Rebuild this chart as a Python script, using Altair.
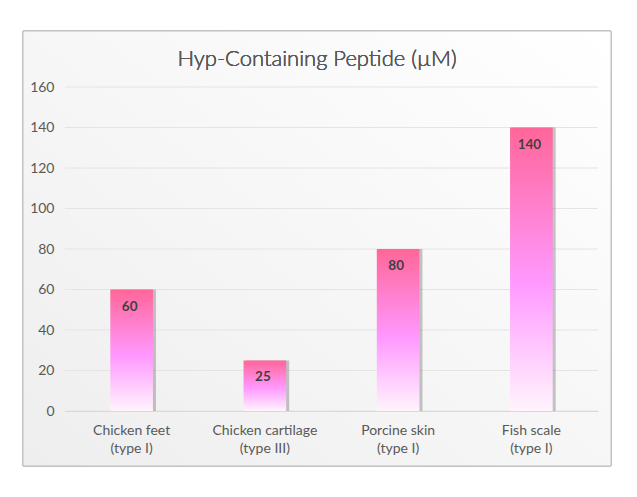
import altair as alt
import pandas as pd

categories = ["Chicken feet|(type I)", "Chicken cartilage|(type III)", "Porcine skin|(type I)", "Fish scale|(type I)"]
values = [60, 25, 80, 140]
y_ticks = [0, 20, 40, 60, 80, 100, 120, 140, 160]
title_text = "Hyp-Containing Peptide (µM)"

df = pd.DataFrame({"cat": categories, "val": values})
grid_df = pd.DataFrame({"tick": y_ticks})

W, H = 533, 324
FONT = "Lato"

bar_grad = alt.Gradient(
    gradient="linear",
    stops=[
        alt.GradientStop(color="#FF6699", offset=0),
        alt.GradientStop(color="#FF99FF", offset=0.55),
        alt.GradientStop(color="#FFF4FC", offset=1),
    ],
    x1=0, x2=0, y1=0, y2=1,
)
bg_grad = alt.Gradient(
    gradient="linear",
    stops=[
        alt.GradientStop(color="#EEEEEE", offset=0),
        alt.GradientStop(color="#FFFFFF", offset=1),
    ],
    x1=0, x2=1, y1=1, y2=0,
)

x_enc = alt.X(
    "cat:N", sort=categories, title=None,
    scale=alt.Scale(paddingInner=0.68, paddingOuter=0.34),
    axis=alt.Axis(labelExpr="split(datum.label, '|')", labelAngle=0, labelFontSize=14,
                  labelColor="#595959", labelFont=FONT, labelPadding=12, labelLineHeight=18,
                  ticks=False, domainColor="#D9D9D9", grid=False, zindex=1),
)
y_enc = alt.Y(
    "val:Q", title=None,
    scale=alt.Scale(domain=[0, 160]),
    axis=alt.Axis(values=y_ticks, labelFontSize=14,
                  labelColor="#595959", labelFont=FONT, labelPadding=11, ticks=False,
                  domain=False, grid=False, zindex=1),
)

frame = alt.Chart(df).mark_rect(fill=bg_grad, stroke="#BFBFBF", strokeWidth=1).encode(
    x=alt.value(-42), x2=alt.value(W + 13), y=alt.value(-56), y2=alt.value(H + 55)
)

grid = alt.Chart(grid_df).mark_rule(color="#E4E4E4", strokeWidth=1).encode(
    y=alt.Y("tick:Q"), x=alt.value(0), x2=alt.value(W)
)

title = alt.Chart(df).mark_text(
    text=title_text, fontSize=22, font=FONT, fontWeight=300, color="#595959",
    baseline="middle", align="center"
).encode(x=alt.value(252), y=alt.value(-28))

shadow = alt.Chart(df).mark_bar(color="#808080", opacity=0.45).encode(
    x=x_enc, y=y_enc, xOffset=alt.value(3)
)

bars = alt.Chart(df).mark_bar(fill=bar_grad).encode(x=x_enc, y=y_enc)

labels = alt.Chart(df).mark_text(
    fontSize=13.5, fontWeight="bold", font=FONT, color="#404040", baseline="middle", dy=17, dx=-2
).encode(x=alt.X("cat:N", sort=categories), y="val:Q", text="val:Q")

chart = alt.layer(frame, grid, title, shadow, bars, labels).properties(
    width=W, height=H,
    padding={"left": 14, "top": 22, "right": 5, "bottom": 5},
    background="white",
).configure_view(stroke=None)

chart.save("out.html", embed_options={"renderer": "svg", "actions": False})
